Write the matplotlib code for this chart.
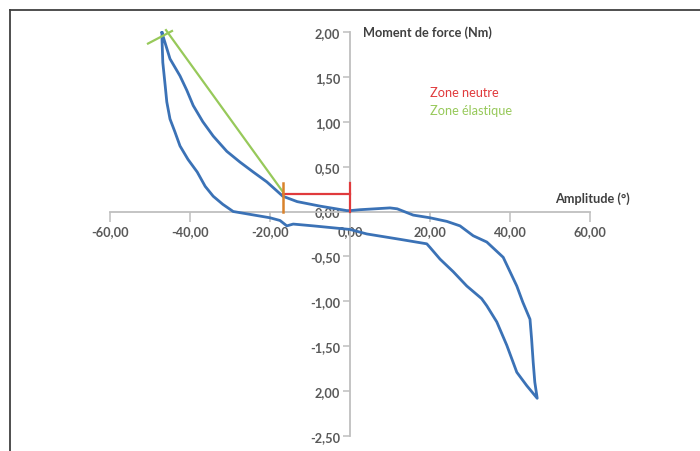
import matplotlib.pyplot as plt
from matplotlib.lines import Line2D

# hysteresis loop (amplitude in deg, moment in Nm)
charge_x = [-47.0, -45.0, -42.5, -40.8, -39.2, -36.8, -34.2, -30.8, -27.5, -24.2, -20.8,
            -16.8, -13.2, -7.5, -0.8, 0.0, 2.5, 10.0, 11.8, 15.8, 20.0, 24.2, 27.5,
            30.8, 34.2, 38.3, 40.0, 41.7, 43.2, 45.0, 45.4, 45.8, 46.2, 46.8]
charge_y = [1.99, 1.70, 1.51, 1.35, 1.18, 1.00, 0.84, 0.67, 0.55, 0.44, 0.33,
            0.17, 0.11, 0.06, 0.01, 0.01, 0.02, 0.04, 0.03, -0.04, -0.07, -0.11, -0.16,
            -0.27, -0.34, -0.51, -0.67, -0.83, -1.01, -1.20, -1.42, -1.68, -1.90, -2.08]
retour_x = [46.8, 44.2, 41.7, 39.2, 36.7, 34.2, 32.9, 29.2, 25.8, 22.5, 20.0, 19.2,
            12.5, 4.2, 0.0, -9.2, -14.2, -15.8, -17.5, -20.0, -29.2, -31.8, -34.2,
            -36.2, -38.2, -40.5, -42.5, -43.8, -45.0, -45.8, -46.2, -46.8, -47.0, -47.0]
retour_y = [-2.08, -1.94, -1.79, -1.49, -1.23, -1.05, -0.97, -0.83, -0.67, -0.53, -0.40, -0.36,
            -0.31, -0.25, -0.20, -0.16, -0.14, -0.16, -0.10, -0.07, 0.00, 0.08, 0.17,
            0.28, 0.44, 0.58, 0.73, 0.89, 1.03, 1.22, 1.40, 1.66, 1.92, 1.99]

neutre_x = [-16.8, 0.0]
neutre_y = 0.20
cap_y = [0.0, 0.32]
elast_x = [-16.8, -46.0]
elast_y = [0.22, 2.02]
elast_cap_x = [-50.5, -44.5]
elast_cap_y = [1.87, 2.01]

xticks = [-60, -40, -20, 0, 20, 40, 60]
xlabels = ['-60,00', '-40,00', '-20,00', '0,00', '20,00', '40,00', '60,00']
yticks = [2.0, 1.5, 1.0, 0.5, 0.0, -0.5, -1.0, -1.5, -2.0, -2.5]
ylabels = ['2,00', '1,50', '1,00', '0,50', '0,00', '-0,50', '-1,00', '-1,50', '2,00', '-2,50']

plt.rcParams['font.family'] = ['Lato', 'DejaVu Sans']
grey = '#bfbfbf'
txt = '#595959'
blue = '#3b72b6'
red = '#e03a3c'
green = '#97c95a'
fs = 9.2

fig = plt.figure(figsize=(7, 4.52), dpi=100)
ax = fig.add_axes([0, 0, 1, 1])
ax.set_xlim(-87.5, 87.5)
ax.set_ylim((212.5 - 452) / 89.8, 212.5 / 89.8)

ax.plot(charge_x + retour_x, charge_y + retour_y, color=blue, lw=2.0, zorder=3,
        solid_joinstyle='round')

# zones
ax.plot(elast_x, elast_y, color=green, lw=1.6, zorder=4)
ax.plot(elast_cap_x, elast_cap_y, color=green, lw=1.6, zorder=4)
ax.plot(neutre_x, [neutre_y, neutre_y], color=red, lw=1.6, zorder=4)
ax.plot([neutre_x[1]] * 2, cap_y, color=red, lw=1.6, zorder=4)
ax.plot([neutre_x[0]] * 2, cap_y, color='#d9822b', lw=1.8, zorder=4)

for s in ['top', 'right']:
    ax.spines[s].set_visible(False)
ax.spines['left'].set_position(('data', 0))
ax.spines['bottom'].set_position(('data', 0))
ax.spines['left'].set_bounds(-2.5, 2.0)
ax.spines['bottom'].set_bounds(-60, 60)
for s in ['left', 'bottom']:
    ax.spines[s].set_color(grey)
    ax.spines[s].set_linewidth(1.3)

ax.set_xticks(xticks)
ax.set_xticklabels(xlabels)
ax.set_yticks(yticks)
ax.set_yticklabels(ylabels)
ax.tick_params(axis='x', direction='out', length=7, width=1.1, color=grey,
               labelcolor=txt, labelsize=fs, pad=3)
ax.tick_params(axis='y', direction='out', length=5, width=1.1, color=grey,
               labelcolor=txt, labelsize=fs, pad=2)
for lab in ax.get_xticklabels() + ax.get_yticklabels():
    lab.set_fontweight('bold')

ax.text(3.2, 2.0, 'Moment de force (Nm)', color='#404040', fontsize=fs,
        fontweight='bold', va='center', ha='left')
ax.text(51.2, 0.15, 'Amplitude (°)', color='#404040', fontsize=fs,
        fontweight='bold', va='center', ha='left')
ax.text(20.0, 1.33, 'Zone neutre', color=red, fontsize=fs, va='center', ha='left')
ax.text(20.0, 1.13, 'Zone élastique', color=green, fontsize=fs, va='center', ha='left')

# frame around the figure (top and left edges visible)
fig.add_artist(Line2D([10 / 700, 1], [1 - 11 / 452] * 2, color='#404040', lw=1.3))
fig.add_artist(Line2D([10 / 700] * 2, [0, 1 - 11 / 452], color='#404040', lw=1.3))

fig.savefig('out.png', dpi=100)
